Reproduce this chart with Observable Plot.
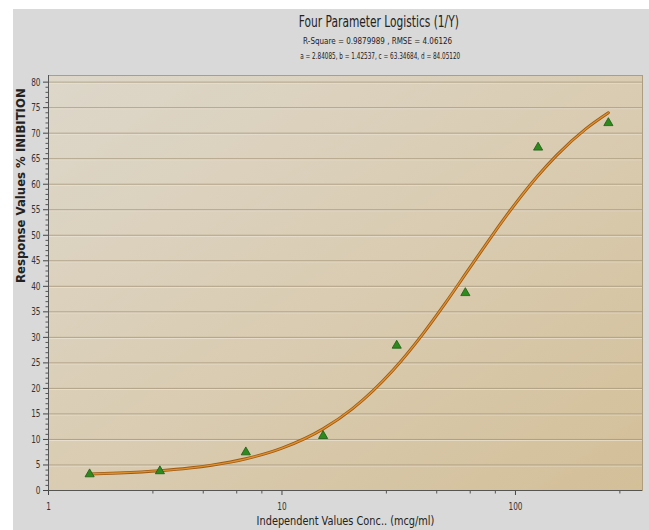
<!DOCTYPE html>
<html>
<head>
<meta charset="utf-8">
<script src="https://cdn.jsdelivr.net/npm/d3@7"></script>
<script src="https://cdn.jsdelivr.net/npm/@observablehq/plot@0.6"></script>
<style>
  body { margin: 0; background: #ffffff; }
  #figure { position: relative; width: 649px; height: 530px; background: #ffffff; overflow: hidden; font-family: "DejaVu Sans", sans-serif; }
  #panel { position: absolute; left: 13px; top: 9px; right: 0; bottom: 0; background: #d9d9d9; }
  .line { position: absolute; white-space: nowrap; color: #222; transform-origin: 50% 50%; }
  #title { top: 15px; font-size: 15px; line-height: 15px; }
  #stats { top: 37px; font-size: 9px; line-height: 9px; }
  #params { top: 51.5px; font-size: 9px; line-height: 9px; }
  #plot { position: absolute; left: 0; top: 60px; }
</style>
</head>
<body>
<div id="figure">
  <div id="panel"></div>
  <div id="title" class="line"></div>
  <div id="stats" class="line"></div>
  <div id="params" class="line"></div>
  <div id="plot"></div>
</div>
<script>
// Measured points: concentration (mcg/ml) and % inhibition
const concentration = [1.5, 3, 7, 15, 31, 61, 125, 250];
const inhibition = [3.2, 3.8, 7.5, 10.7, 28.4, 38.7, 67.2, 72.0];

// Fitted four-parameter logistic curve sampled along the concentration range
const fitConcentration = [1.5, 2, 3, 4, 5, 7, 10, 15, 20, 30, 40, 50, 63.35, 80, 100, 125, 150, 200, 250];
const fitInhibition = [3.23, 3.43, 3.88, 4.39, 4.96, 6.21, 8.30, 12.08, 16.00, 23.66, 30.60, 36.66, 43.45, 50.14, 56.21, 61.71, 65.66, 70.84, 74.00];

// Ticks
const yTicks = [0, 5, 10, 15, 20, 25, 30, 35, 40, 45, 50, 55, 60, 65, 70, 75, 80];
const xTicks = [1, 10, 100];
const xMinorTicks = [2.8, 4.6, 6.4, 8.2, 28, 46, 64, 82, 280];

// Texts
const titleText = "Four Parameter Logistics (1/Y)";
const statsText = "R-Square = 0.9879989 , RMSE = 4.06126";
const paramsText = "a = 2.84085, b = 1.42537, c = 63.34684, d = 84.05120";
const xLabel = "Independent Values Conc.. (mcg/ml)";
const yLabel = "Response Values % INIBITION";

const yMinorTicks = d3.range(0, 81).filter((v) => v % 5 !== 0);
const yGrid = yTicks.filter((v) => v > 0);

const points = concentration.map((c, i) => ({c, v: inhibition[i]}));
const fit = fitConcentration.map((c, i) => ({c, v: fitInhibition[i]}));

const chart = Plot.plot({
  width: 649,
  height: 470,
  marginTop: 15,
  marginRight: 7,
  marginBottom: 40,
  marginLeft: 48,
  style: {background: "transparent", fontFamily: "DejaVu Sans, sans-serif", fontSize: "10.5px", color: "#333", overflow: "visible"},
  x: {type: "log", domain: [1, 350], label: null},
  y: {domain: [0, 81.3], label: null},
  marks: [
    Plot.frame({fill: "url(#plot-bg)", stroke: null}),
    Plot.gridY(yGrid, {stroke: "#f1ebdf", strokeOpacity: 0.6, dy: 1}),
    Plot.gridY(yGrid, {stroke: "#a6977a", strokeOpacity: 0.8}),
    Plot.frame({stroke: "#ad9e80", strokeWidth: 1}),
    Plot.axisY(yTicks, {tickSize: 5, tickPadding: 3, stroke: "#444", fill: "#333", label: null}),
    Plot.axisY(yMinorTicks, {tickSize: 2.5, text: null, stroke: "#555", label: null}),
    Plot.axisX(xTicks, {tickSize: 5, tickPadding: 7, stroke: "#444", fill: "#333", label: null, tickFormat: (d) => `${d}`}),
    Plot.axisX(xMinorTicks, {tickSize: 3.5, text: null, stroke: "#555", label: null}),
    Plot.ruleX([1], {stroke: "#555", strokeWidth: 1}),
    Plot.ruleY([0], {stroke: "#555", strokeWidth: 1}),
    Plot.line(fit, {x: "c", y: "v", curve: "monotone-x", stroke: "#9c5a16", strokeWidth: 3}),
    Plot.line(fit, {x: "c", y: "v", curve: "monotone-x", stroke: "#e0902c", strokeWidth: 1.3}),
    Plot.dot(points, {x: "c", y: "v", symbol: "triangle", r: 3.4, fill: "#2d8a1c", stroke: "#1c5a10", strokeWidth: 0.8}),
    Plot.text([xLabel], {text: (d) => d, frameAnchor: "bottom", dy: 34.5, fontSize: 11.5, fill: "#222"}),
    Plot.text([yLabel], {text: (d) => d, frameAnchor: "left", rotate: -90, dx: -27, fontSize: 11.7, fontWeight: "bold", fill: "#222"})
  ]
});

document.getElementById("plot").appendChild(chart);

// Plot-area background gradient
const svg = d3.select(chart);
const grad = svg.insert("defs", ":first-child")
  .append("linearGradient")
  .attr("id", "plot-bg")
  .attr("x1", "0").attr("y1", "0").attr("x2", "1").attr("y2", "1");
grad.append("stop").attr("offset", "0").attr("stop-color", "#ddd7ca");
grad.append("stop").attr("offset", "0.55").attr("stop-color", "#d9cbb0");
grad.append("stop").attr("offset", "1").attr("stop-color", "#d3bf98");

// Horizontally condensed lettering
function squeeze(el, k) {
  const x = +el.getAttribute("x") || 0;
  const y = +el.getAttribute("y") || 0;
  const t = el.getAttribute("transform") || "";
  el.setAttribute("transform", `${t} translate(${x},${y}) scale(${k},1) translate(${-x},${-y})`);
}
svg.selectAll('g[aria-label="y-axis tick label"] text, g[aria-label="x-axis tick label"] text')
  .each(function () { squeeze(this, 0.7); });
svg.selectAll("text")
  .filter(function () { return this.textContent === xLabel; })
  .each(function () { squeeze(this, 178 / this.getComputedTextLength()); });

// Header lines, centred and condensed to their widths
function fitLine(id, text, cx, width) {
  const el = document.getElementById(id);
  el.textContent = text;
  const w = el.getBoundingClientRect().width;
  el.style.left = `${cx - w / 2}px`;
  el.style.transform = `scaleX(${width / w})`;
}
fitLine("title", titleText, 379, 160);
fitLine("stats", statsText, 377.5, 149);
fitLine("params", paramsText, 380, 160);
</script>
</body>
</html>
